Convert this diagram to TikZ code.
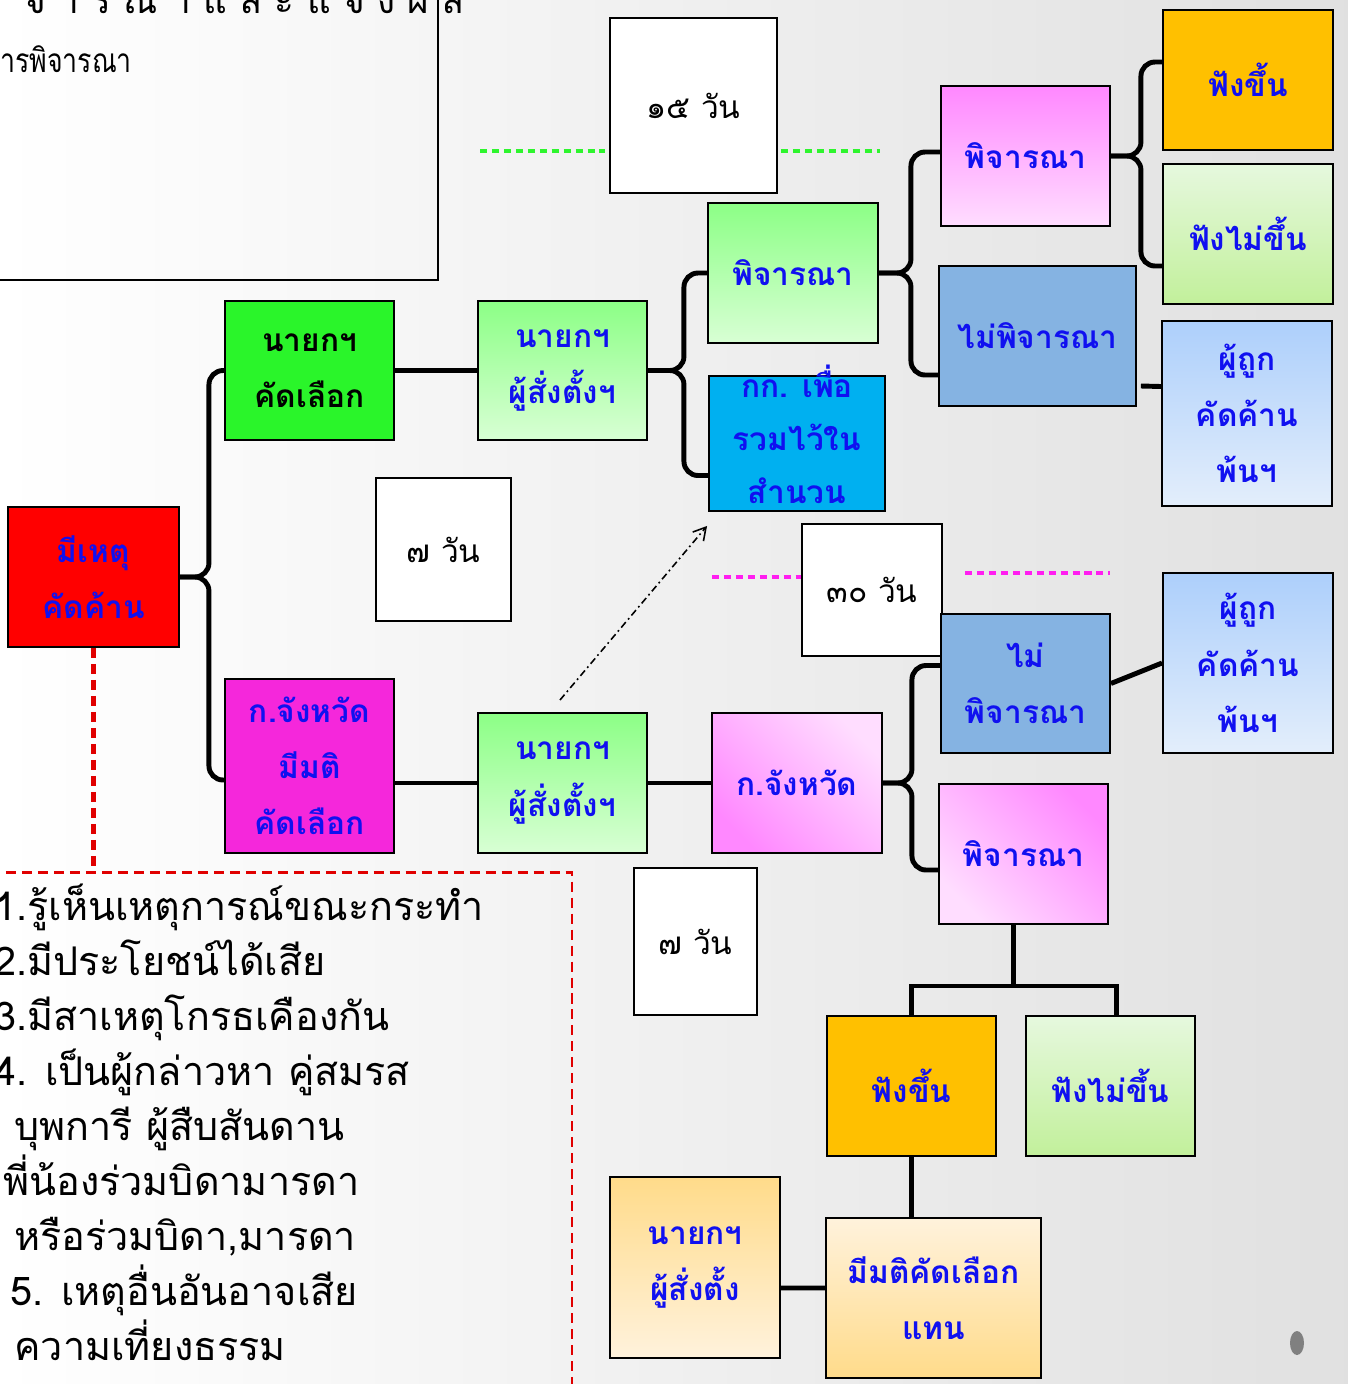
\documentclass[tikz,border=0pt]{standalone}
\usepackage{fontspec}
\setmainfont{Loma}[Script=Thai]
\usepackage{tikz}
\usetikzlibrary{calc,arrows.meta}
\definecolor{cred}{HTML}{FF0000}
\definecolor{cgreen}{HTML}{2AF52A}
\definecolor{cmag}{HTML}{F527DB}
\definecolor{ccyan}{HTML}{00B0F0}
\definecolor{csteel}{HTML}{85B3E2}
\definecolor{corange}{HTML}{FFC000}
\definecolor{ctext}{HTML}{1010F0}
\definecolor{cdot}{HTML}{2EF52E}
\definecolor{cpinkdot}{HTML}{FF1EF0}
\definecolor{cdash}{HTML}{E00000}
\definecolor{mintA}{HTML}{8CFF86}
\definecolor{mintB}{HTML}{D8FFD4}
\definecolor{pinkA}{HTML}{FF88FF}
\definecolor{pinkB}{HTML}{FFDDFF}
\definecolor{paleA}{HTML}{E6F8DE}
\definecolor{paleB}{HTML}{C2F09B}
\definecolor{skyA}{HTML}{ADCFFB}
\definecolor{skyB}{HTML}{E3EEFB}
\definecolor{peachA}{HTML}{FFDB8A}
\definecolor{peachB}{HTML}{FFF2DC}
\tikzstyle{block} = [rectangle, draw, line width=1.1pt, align=center, inner sep=0pt, text=ctext, font=\fontsize{18}{32}\selectfont\bfseries]
\tikzstyle{mint} = [top color=mintA, bottom color=mintB]
\tikzstyle{pinkish} = [top color=pinkA, bottom color=pinkB]
\tikzstyle{pale} = [shading angle=135, top color=paleA, bottom color=paleB]
\tikzstyle{sky} = [top color=skyA, bottom color=skyB]
\tikzstyle{peach} = [shading angle=135, top color=peachB, bottom color=peachA]
\tikzstyle{daybox} = [rectangle, draw, line width=1.1pt, fill=white, font=\fontsize{18}{22}\selectfont]
\tikzstyle{line} = [draw, line width=2.8pt, rounded corners=8pt]
\tikzstyle{dotline} = [line width=2.8pt, dash pattern=on 4pt off 2.8pt]
\tikzstyle{reddash} = [draw=cdash, line width=1.7pt, dash pattern=on 5.7pt off 3.4pt]

\begin{document}
\begin{tikzpicture}[x=0.02cm, y=-0.02cm]
	\clip (0,0) rectangle (1348,1384);
	\shade[left color=white, right color=black!12] (0,0) rectangle (1348,1384);
	\fill[black!50] (1297,1343) ellipse (0.14cm and 0.24cm);

	% note box (cut off)
	\draw[line width=1.1pt] (-10,-10) rectangle (438,280);
	\node[anchor=base west, font=\fontsize{21}{26}\selectfont] (notetitle) at (18,13) {จ า ร ณ า แ ล ะ แ จ้ ง ผ ล};
	\node[anchor=base east, font=\fontsize{19}{26}\selectfont\addfontfeature{FakeStretch=0.8}] (notesub) at (138,72) {การพิจารณา};

	% Place nodes
	\node[block, fill=cred, minimum width=3.42cm, minimum height=2.8cm] (cause) at (93.5,577) {มีเหตุ\\คัดค้าน};
	\node[block, fill=cgreen, text=black, minimum width=3.38cm, minimum height=2.78cm] (chiefsel) at (309.5,370.5) {นายกฯ\\คัดเลือก};
	\node[block, fill=cmag, minimum width=3.38cm, minimum height=3.48cm] (provsel) at (309.5,766) {ก.จังหวัด\\มีมติ\\คัดเลือก};
	\node[daybox, minimum width=2.7cm, minimum height=2.86cm] (daysA) at (443.5,549.5) {๗ วัน};
	\node[block, mint, minimum width=3.38cm, minimum height=2.78cm] (apptop) at (562.5,370.5) {นายกฯ\\ผู้สั่งตั้งฯ};
	\node[block, mint, minimum width=3.38cm, minimum height=2.8cm] (appbot) at (562.5,783) {นายกฯ\\ผู้สั่งตั้งฯ};
	\node[daybox, minimum width=3.34cm, minimum height=3.5cm] (days15) at (693.5,105.5) {๑๕ วัน};
	\node[block, mint, minimum width=3.4cm, minimum height=2.8cm] (consA) at (793,273) {พิจารณา};
	\node[block, fill=ccyan, minimum width=3.52cm, minimum height=2.7cm] (cttee) at (797,443.5) {};
	\node[text=ctext, align=center, inner sep=0pt, font=\fontsize{18}{30}\selectfont\bfseries] (ctteetext) at ($(cttee)+(0,-9)$) {กก. เพื่อ\\รวมไว้ใน\\สำนวน};
	\node[block, pinkish, minimum width=3.38cm, minimum height=2.8cm] (consB) at (1025.5,156) {พิจารณา};
	\node[block, fill=csteel, minimum width=3.94cm, minimum height=2.8cm] (rejA) at (1037.5,336) {ไม่พิจารณา};
	\node[block, fill=corange, minimum width=3.4cm, minimum height=2.8cm] (upA) at (1248,80) {ฟังขึ้น};
	\node[block, pale, minimum width=3.4cm, minimum height=2.8cm] (downA) at (1248,234) {ฟังไม่ขึ้น};
	\node[block, sky, minimum width=3.4cm, minimum height=3.7cm] (freeA) at (1247,413.5) {ผู้ถูก\\คัดค้าน\\พ้นฯ};
	\node[daybox, minimum width=2.8cm, minimum height=2.64cm] (days30) at (872,590) {๓๐ วัน};
	\node[block, fill=csteel, minimum width=3.38cm, minimum height=2.78cm] (rejB) at (1025.5,683.5) {ไม่\\พิจารณา};
	\node[block, sky, minimum width=3.4cm, minimum height=3.6cm] (freeB) at (1248,663) {ผู้ถูก\\คัดค้าน\\พ้นฯ};
	\node[block, pinkish, shading angle=135, minimum width=3.4cm, minimum height=2.8cm] (prov) at (797,783) {ก.จังหวัด};
	\node[block, pinkish, shading angle=-45, minimum width=3.38cm, minimum height=2.8cm] (consC) at (1023.5,854) {พิจารณา};
	\node[daybox, minimum width=2.46cm, minimum height=2.94cm] (daysB) at (695.5,941.5) {๗ วัน};
	\node[block, fill=corange, minimum width=3.38cm, minimum height=2.8cm] (upB) at (911.5,1086) {ฟังขึ้น};
	\node[block, pale, minimum width=3.38cm, minimum height=2.8cm] (downB) at (1110.5,1086) {ฟังไม่ขึ้น};
	\node[block, top color=peachA, bottom color=peachB, minimum width=3.4cm, minimum height=3.62cm] (chiefB) at (695,1267.5) {นายกฯ\\ผู้สั่งตั้ง};
	\node[block, peach, minimum width=4.3cm, minimum height=3.2cm] (resel) at (933.5,1298) {มีมติคัดเลือก\\แทน};

	% Draw edges
	\path[line] (cause.east) -- ++(29,0) |- (chiefsel.west);
	\path[line] (cause.east) -- ++(29,0) |- ($(provsel.west)+(0,14)$);
	\path[line] (chiefsel.east) -- (apptop.west);
	\path[line] (appbot.west -| provsel.east) -- (appbot.west);
	\path[line] (appbot.east) -- (prov.west);
	\path[line] (apptop.east) -- ++(36,0) |- (consA.west);
	\path[line] (apptop.east) -- ++(36,0) |- ($(cttee.west)+(0,32)$);
	\path[line] (consA.east) -- ++(32,0) |- ($(consB.west)+(0,-4)$);
	\path[line] (consA.east) -- ++(32,0) |- ($(rejA.west)+(0,39)$);
	\path[line] (consB.east) -- ++(30,0) |- ($(upA.west)+(0,-18)$);
	\path[line] (consB.east) -- ++(30,0) |- ($(downA.west)+(0,32)$);
	\path[line] ($(rejA.east)+(4,50)$) -- ($(freeA.west)+(0,-27)$);
	\path[line] (prov.east) -- ++(29,0) |- ($(rejB.west)+(0,-18)$);
	\path[line] (prov.east) -- ++(29,0) |- ($(consC.west)+(0,16)$);
	\path[line, rounded corners=0pt] (rejB.east) -- (freeB.west);
	\path[line, rounded corners=0pt] ($(consC.south)+(-10,0)$) -- ++(0,61) -| (upB.north);
	\path[line, rounded corners=0pt] ($(consC.south)+(-10,0)$) -- ++(0,61) -| ($(downB.north)+(6,0)$);
	\path[line] (upB.south) -- (upB.south |- resel.north);
	\path[line] ($(chiefB.east)+(0,20.5)$) -- ($(resel.west)+(0,-10)$);

	% time lines
	\coordinate (gA) at (480,151);
	\coordinate (gB) at (880,151);
	\draw[dotline, cdot] (gA) -- ($(gA -| days15.west)+(-4,0)$);
	\draw[dotline, cdot] ($(gB -| days15.east)+(3,0)$) -- (gB);
	\coordinate (mA) at (712,577);
	\coordinate (mB) at (965,573);
	\coordinate (mC) at (1110,573);
	\draw[dotline, cpinkdot] (mA) -- (mA -| days30.west);
	\draw[dotline, cpinkdot] (mB) -- (mC);
	\coordinate (arrtail) at (560,700);
	\draw[line width=0.9pt, dash pattern=on 4pt off 2pt on 1pt off 2pt, -{Straight Barb[length=7pt, width=8pt]}] (arrtail) -- ($(cttee.south west)+(-1,14)$);

	% reasons box
	\coordinate (legtl) at (-10,872);
	\coordinate (legtr) at (572,872);
	\coordinate (legbr) at (572,1400);
	\draw[reddash, line width=2.4pt] (cause.south) -- (cause.south |- legtl);
	\draw[reddash] (legtl) -- (legtr) -- (legbr);
	\node[anchor=north west, align=left, inner sep=0pt, font=\fontsize{22.5}{31.3}\selectfont] (reasons) at (-6,884) {1.รู้เห็นเหตุการณ์ขณะกระทำ\\2.มีประโยชน์ได้เสีย\\3.มีสาเหตุโกรธเคืองกัน\\4. เป็นผู้กล่าวหา คู่สมรส\\\hspace*{0.4cm}บุพการี ผู้สืบสันดาน\\\hspace*{0.18cm}พี่น้องร่วมบิดามารดา\\\hspace*{0.4cm}หรือร่วมบิดา,มารดา\\\hspace*{0.32cm}5. เหตุอื่นอันอาจเสีย\\\hspace*{0.4cm}ความเที่ยงธรรม};
\end{tikzpicture}
\end{document}
